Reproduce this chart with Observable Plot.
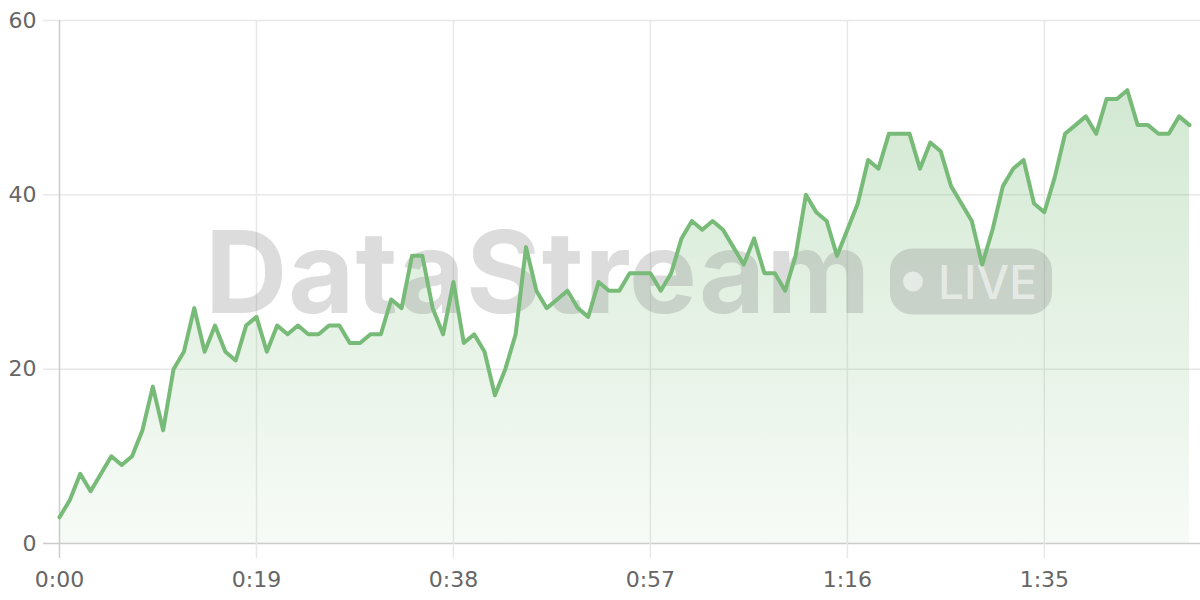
<!DOCTYPE html>
<html>
<head>
<meta charset="utf-8">
<script src="https://cdn.jsdelivr.net/npm/d3@7"></script>
<script src="https://cdn.jsdelivr.net/npm/@observablehq/plot@0.6"></script>
<style>
  html, body { margin: 0; padding: 0; background: #ffffff; }
  #chart { width: 1200px; height: 600px; }
</style>
</head>
<body>
<div id="chart"></div>
<script>
// Values, one per second (0:00 .. 1:49)
const values = [
  3, 5, 8, 6, 8, 10, 9, 10, 13, 18,
  13, 20, 22, 27, 22, 25, 22, 21, 25, 26,
  22, 25, 24, 25, 24, 24, 25, 25, 23, 23,
  24, 24, 28, 27, 33, 33, 27, 24, 30, 23,
  24, 22, 17, 20, 24, 34, 29, 27, 28, 29,
  27, 26, 30, 29, 29, 31, 31, 31, 29, 31,
  35, 37, 36, 37, 36, 34, 32, 35, 31, 31,
  29, 33, 40, 38, 37, 33, 36, 39, 44, 43,
  47, 47, 47, 43, 46, 45, 41, 39, 37, 32,
  36, 41, 43, 44, 39, 38, 42, 47, 48, 49,
  47, 51, 51, 52, 48, 48, 47, 47, 49, 48
];
const xTicks = [0, 19, 38, 57, 76, 95];
const yTicks = [0, 20, 40, 60];
const watermarkText = "DataStream";
const liveText = "LIVE";

const data = values.map((v, i) => ({ t: i, v }));
const fmtTime = s => `${Math.floor(s / 60)}:${String(s % 60).padStart(2, "0")}`;

const lineColor = "#78bb78";
const fontFamily = "'DejaVu Sans', sans-serif";

const defs = () => {
  const d = d3.create("svg:defs");
  const g = d.append("linearGradient").attr("id", "areaGrad")
    .attr("x1", 0).attr("x2", 0).attr("y1", 0).attr("y2", 1);
  g.append("stop").attr("offset", "0%").attr("stop-color", lineColor).attr("stop-opacity", 0.33);
  g.append("stop").attr("offset", "100%").attr("stop-color", lineColor).attr("stop-opacity", 0.06);
  return d.node();
};

const watermark = (index, scales, values, dims) => {
  const cx = (dims.marginLeft + dims.width - dims.marginRight) / 2;
  const cy = (dims.marginTop + dims.height - dims.marginBottom) / 2;
  const g = d3.create("svg:g").attr("transform", `translate(${cx},${cy})`);
  g.append("text")
    .attr("x", -419).attr("y", 31)
    .attr("text-anchor", "start")
    .attr("font-family", "Inter, sans-serif")
    .attr("font-weight", 700)
    .attr("font-size", 114)
    .attr("letter-spacing", 1)
    .attr("fill", "#8a8a8a")
    .attr("fill-opacity", 0.3)
    .text(watermarkText);
  const pill = g.append("g").attr("transform", "translate(266,-33)");
  pill.append("rect")
    .attr("width", 162).attr("height", 66).attr("rx", 22)
    .attr("fill", "#8a8a8a").attr("fill-opacity", 0.3);
  pill.append("circle")
    .attr("cx", 23).attr("cy", 33).attr("r", 10)
    .attr("fill", "#ffffff").attr("fill-opacity", 0.55);
  pill.append("text")
    .attr("x", 48).attr("y", 50)
    .attr("text-anchor", "start")
    .attr("font-family", "Inter, sans-serif")
    .attr("font-weight", 500)
    .attr("font-size", 46)
    .attr("fill", "#ffffff").attr("fill-opacity", 0.55)
    .text(liveText);
  return g.node();
};

const chart = Plot.plot({
  width: 1200,
  height: 600,
  marginLeft: 59,
  marginRight: 11,
  marginTop: 20,
  marginBottom: 57,
  style: { fontFamily, fontSize: "22px", color: "#666", background: "#fff" },
  x: { domain: [0, 109], label: null },
  y: { domain: [0, 60], label: null },
  marks: [
    defs,
    Plot.ruleY(yTicks, { stroke: d => d === 0 ? "#cccccc" : "#e8e8e8", strokeWidth: 1.5, insetLeft: -16, insetRight: -11 }),
    Plot.ruleX(xTicks, { stroke: d => d === 0 ? "#cccccc" : "#e8e8e8", strokeWidth: 1.5, insetBottom: -15 }),
    Plot.areaY(data, { x: "t", y: "v", fill: "url(#areaGrad)" }),
    watermark,
    Plot.lineY(data, { x: "t", y: "v", stroke: lineColor, strokeWidth: 4 }),
    Plot.axisX({ ticks: xTicks, tickSize: 0, tickPadding: 28, tickFormat: fmtTime, fontSize: 22, fill: "#666", label: null }),
    Plot.axisY({ ticks: yTicks, tickSize: 0, tickPadding: 23, fontSize: 22, fill: "#666", label: null })
  ]
});
document.getElementById("chart").append(chart);
</script>
</body>
</html>
